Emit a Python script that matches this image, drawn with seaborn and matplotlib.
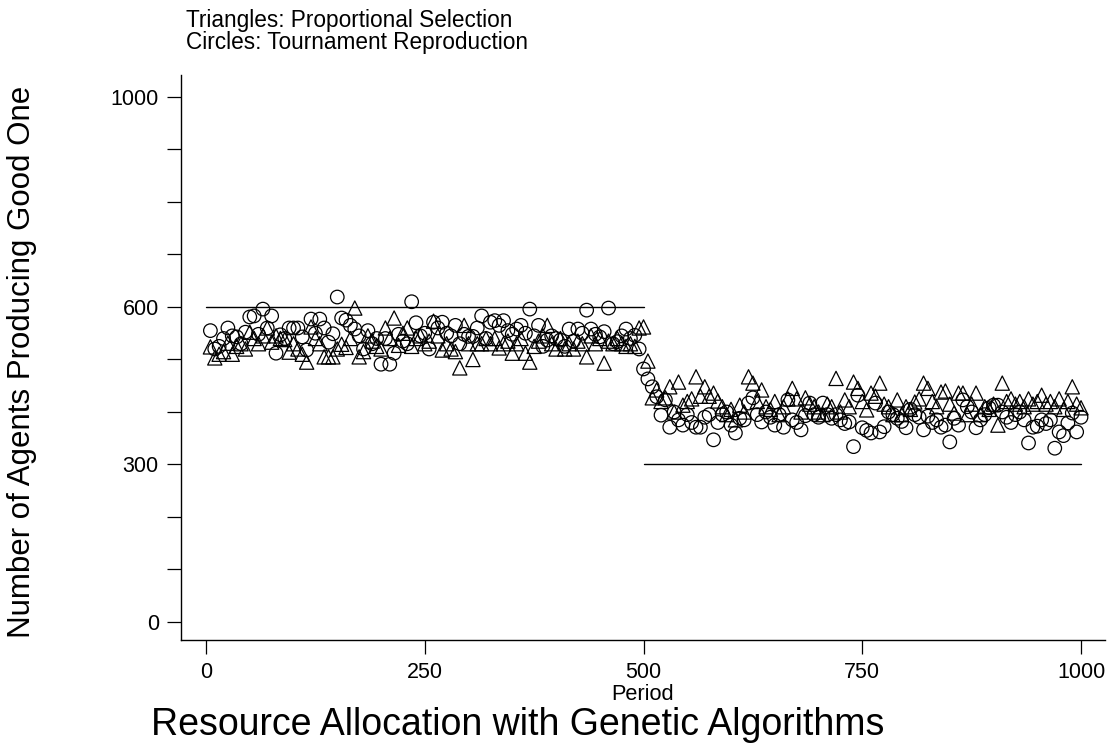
import matplotlib
matplotlib.use("Agg")
import matplotlib.pyplot as plt
import numpy as np
import pandas as pd
import seaborn as sns

# Sampled every 5 periods
periods = list(range(5, 1001, 5))

# Tournament reproduction (circles)
tournament = [
    555, 520, 525, 540, 560, 545, 543, 530, 552, 581,
    583, 548, 596, 560, 583, 512, 547, 540, 560, 560,
    560, 543, 518, 577, 550, 577, 560, 533, 549, 619,
    579, 575, 565, 558, 545, 520, 555, 530, 540, 491,
    540, 491, 512, 548, 535, 530, 610, 570, 545, 550,
    520, 571, 560, 571, 550, 545, 565, 530, 548, 544,
    544, 560, 583, 540, 571, 574, 565, 574, 555, 548,
    558, 565, 550, 596, 545, 565, 525, 537, 545, 540,
    537, 525, 558, 535, 558, 550, 594, 558, 548, 543,
    553, 598, 530, 534, 545, 558, 540, 546, 520, 482,
    463, 448, 429, 394, 423, 371, 400, 385, 375, 395,
    380, 371, 371, 390, 395, 347, 380, 395, 400, 375,
    360, 388, 385, 417, 427, 395, 381, 400, 390, 375,
    395, 371, 423, 385, 380, 366, 393, 417, 395, 390,
    417, 395, 388, 395, 385, 378, 381, 334, 432, 370,
    365, 360, 417, 362, 372, 400, 395, 388, 382, 370,
    405, 395, 390, 366, 392, 380, 385, 371, 375, 343,
    388, 375, 423, 410, 400, 370, 385, 395, 408, 413,
    413, 400, 390, 380, 395, 400, 385, 341, 371, 373,
    385, 378, 385, 331, 362, 355, 379, 398, 362, 390,
]

# Proportional selection (triangles)
proportional = [
    524, 503, 510, 515, 531, 510, 525, 530, 520, 552,
    540, 530, 545, 560, 533, 545, 540, 538, 514, 530,
    520, 510, 495, 562, 540, 530, 505, 505, 505, 520,
    529, 523, 540, 598, 505, 515, 545, 535, 525, 520,
    560, 540, 579, 527, 550, 560, 525, 540, 545, 530,
    535, 573, 545, 518, 530, 520, 515, 484, 565, 530,
    500, 530, 530, 540, 530, 540, 522, 530, 535, 512,
    530, 540, 512, 495, 525, 535, 545, 565, 530, 520,
    540, 520, 530, 520, 535, 530, 505, 545, 530, 540,
    493, 535, 530, 540, 530, 525, 530, 525, 560, 562,
    497, 427, 442, 420, 427, 448, 400, 457, 413, 420,
    425, 467, 430, 448, 430, 436, 421, 410, 395, 405,
    385, 413, 400, 467, 455, 420, 442, 410, 405, 420,
    395, 410, 425, 445, 425, 400, 427, 415, 410, 400,
    395, 415, 410, 464, 400, 423, 410, 457, 445, 420,
    404, 436, 430, 455, 415, 410, 395, 423, 395, 410,
    405, 419, 425, 455, 445, 420, 410, 438, 440, 415,
    398, 436, 436, 395, 415, 436, 395, 410, 405, 415,
    375, 455, 420, 425, 415, 420, 410, 425, 415, 420,
    432, 415, 420, 410, 425, 405, 420, 448, 415, 408,
]

# Equilibrium levels for the two regimes
eq_period_a = [0, 500]
eq_level_a = [600, 600]
eq_period_b = [500, 1000]
eq_level_b = [300, 300]

y_ticks = [0, 100, 200, 300, 400, 500, 600, 700, 800, 900, 1000]
y_labels = ["0", "", "", "300", "", "", "600", "", "", "", "1000"]
x_ticks = [0, 250, 500, 750, 1000]
x_labels = ["0", "250", "500", "750", "1000"]

sns.set_style("white")
plt.rcParams["font.family"] = ["Liberation Sans", "DejaVu Sans"]

fig = plt.figure(figsize=(11.12, 7.52), dpi=100)
ax = fig.add_axes([181 / 1112, 112 / 752, (1105 - 181) / 1112, (640 - 75) / 752])

df = pd.DataFrame({"period": periods, "tournament": tournament,
                   "proportional": proportional})

sns.scatterplot(data=df, x="period", y="tournament", marker="o", s=95,
                color="black", facecolors="none", edgecolor="black",
                linewidth=0.9, ax=ax)
sns.scatterplot(data=df, x="period", y="proportional", marker="^", s=105,
                color="black", facecolors="none", edgecolor="black",
                linewidth=0.9, ax=ax)

sns.lineplot(x=eq_period_a, y=eq_level_a, color="black", linewidth=1.0, ax=ax)
sns.lineplot(x=eq_period_b, y=eq_level_b, color="black", linewidth=1.0, ax=ax)

ax.set_xlim(-28.6, 1027.4)
ax.set_ylim(-34.3, 1041.9)
ax.set_xticks(x_ticks)
ax.set_xticklabels(x_labels)
ax.set_yticks(y_ticks)
ax.set_yticklabels(y_labels)
ax.tick_params(axis="both", direction="out", length=10, width=0.9,
               color="black", labelsize=15.5, pad=6, bottom=True, left=True,
               labelcolor="black")
for side in ["top", "right"]:
    ax.spines[side].set_visible(False)
for side in ["left", "bottom"]:
    ax.spines[side].set_color("black")
    ax.spines[side].set_linewidth(1.0)
ax.set_xlabel("")
ax.set_ylabel("")

fig.text(186 / 1112, 1 - 20 / 752, "Triangles: Proportional Selection",
         fontsize=16.3, va="center", ha="left", color="black")
fig.text(186 / 1112, 1 - 42 / 752, "Circles: Tournament Reproduction",
         fontsize=16.3, va="center", ha="left", color="black")
fig.text(22 / 1112, 1 - 362 / 752, "Number of Agents Producing Good One",
         fontsize=22.5, rotation=90, va="center", ha="center", color="black")
fig.text(643 / 1112, 1 - 694 / 752, "Period", fontsize=15.7,
         va="center", ha="center", color="black")
fig.text(518 / 1112, 1 - 725 / 752, "Resource Allocation with Genetic Algorithms",
         fontsize=27, va="center", ha="center", color="black")

fig.savefig("out.png", dpi=100)
